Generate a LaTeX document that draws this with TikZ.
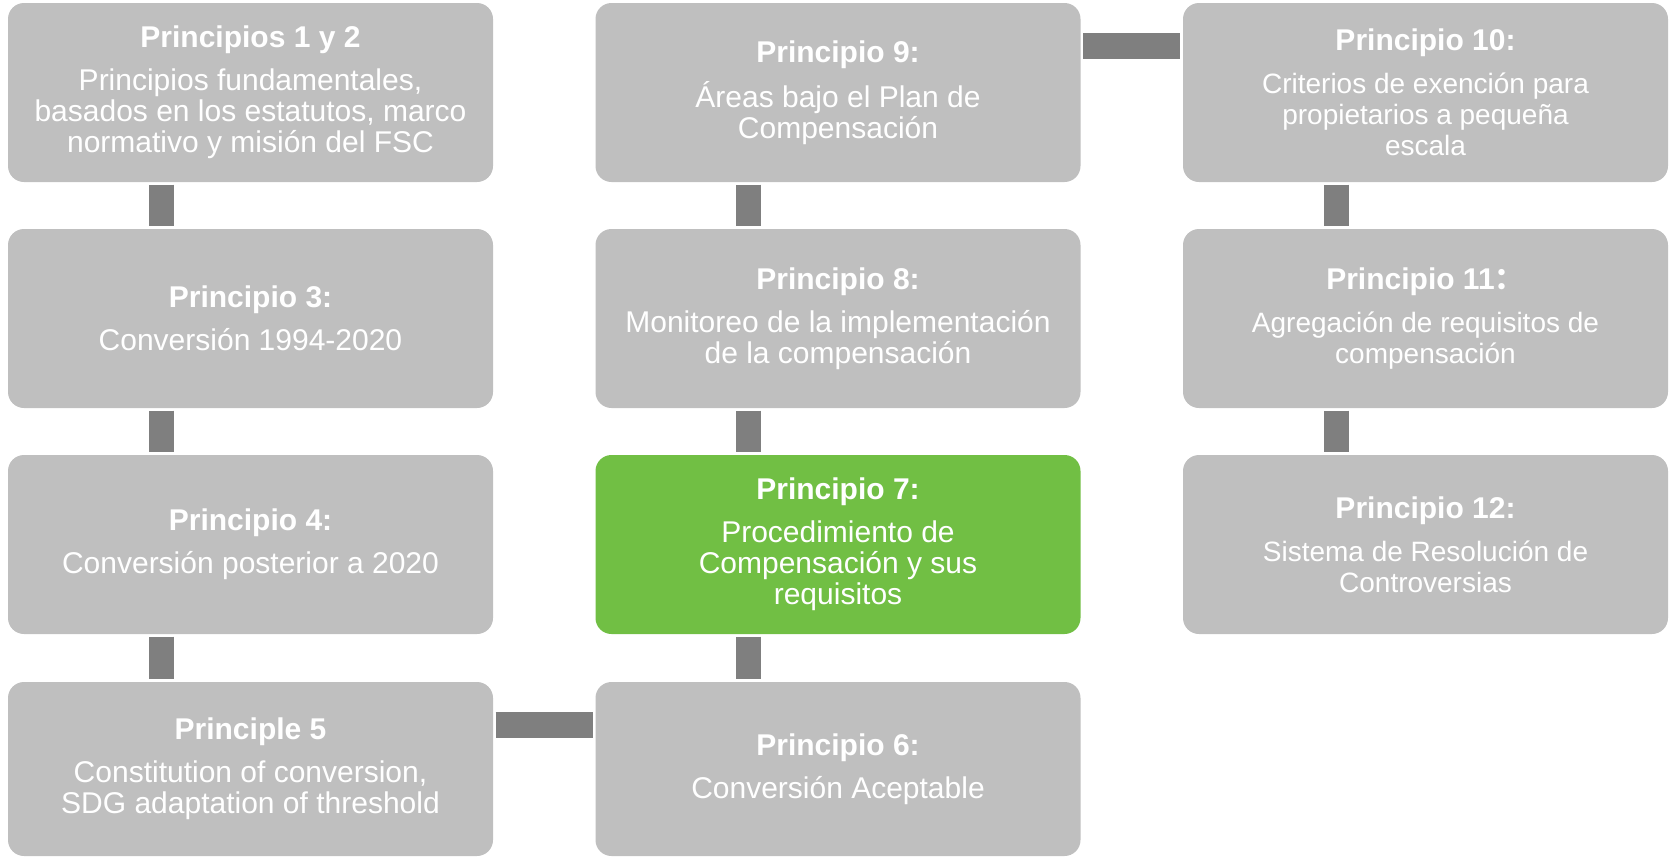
\documentclass[tikz,border=0pt]{standalone}
\usepackage{fontspec}
\setmainfont{Liberation Sans}
\newfontfamily\cjkfont{Noto Sans CJK SC}
\definecolor{boxgray}{HTML}{BFBFBF}
\definecolor{boxgreen}{HTML}{71BF44}
\definecolor{conngray}{HTML}{7F7F7F}
\newcommand\ptitle[1]{{\fontsize{30}{31}\selectfont\bfseries #1}\\[12pt]}
\begin{document}
\begin{tikzpicture}[x=1pt,y=-1pt,
  pbox/.style={rectangle, rounded corners=16pt, fill=boxgray, text=white,
    minimum width=485pt, minimum height=179pt, inner sep=0pt, align=center,
    font=\fontsize{30}{31}\selectfont},
  pboxr/.style={pbox, font=\fontsize{28}{31}\selectfont},
  hilite/.style={fill=boxgreen},
  lastrow/.style={minimum height=174pt},
  vconn/.style={draw=conngray, line width=25pt},
  hconn/.style={draw=conngray, line width=26pt}
]
\useasboundingbox (0,0) rectangle (1673,857);

% column 1
\node[pbox] (p1) at (250.5,92.5) {\ptitle{Principios 1 y 2}Principios fundamentales,\\basados en los estatutos, marco\\normativo y misión del FSC};
\node[pbox] (p3) at (250.5,318.5) {\ptitle{Principio 3:}Conversión 1994-2020};
\node[pbox] (p4) at (250.5,544.5) {\ptitle{Principio 4:}Conversión posterior a 2020};
\node[pbox,lastrow] (p5) at (250.5,769) {\ptitle{Principle 5}Constitution of conversion,\\SDG adaptation of threshold};

% column 2
\node[pbox] (p9) at (838,92.5) {\ptitle{Principio 9:}Áreas bajo el Plan de\\Compensación};
\node[pbox] (p8) at (838,318.5) {\ptitle{Principio 8:}Monitoreo de la implementación\\de la compensación};
\node[pbox,hilite] (p7) at (838,544.5) {\ptitle{Principio 7:}Procedimiento de\\Compensación y sus\\requisitos};
\node[pbox,lastrow] (p6) at (838,769) {\ptitle{Principio 6:}Conversión Aceptable};

% column 3
\node[pboxr] (p10) at (1425.5,92.5) {\ptitle{Principio 10:}Criterios de exención para\\propietarios a pequeña\\escala};
\node[pboxr] (p11) at (1425.5,318.5) {\ptitle{Principio 11{\cjkfont ：}}Agregación de requisitos de\\compensación};
\node[pboxr] (p12) at (1425.5,544.5) {\ptitle{Principio 12:}Sistema de Resolución de\\Controversias};

% vertical connectors
\foreach \a/\b in {p1/p3,p3/p4,p4/p5,p9/p8,p8/p7,p7/p6,p10/p11,p11/p12}{
  \draw[vconn] ([xshift=-89.5pt,yshift=-2.5pt]\a.south) -- ([xshift=-89.5pt,yshift=2.5pt]\b.north);
}
% horizontal connectors
\draw[hconn] ([xshift=2.5pt,yshift=-43.5pt]p9.north east) -- ([xshift=-2.5pt,yshift=-43.5pt]p10.north west);
\draw[hconn] ([xshift=2.5pt,yshift=-43.5pt]p5.north east) -- ([xshift=-2.5pt,yshift=-43.5pt]p6.north west);
\end{tikzpicture}
\end{document}
